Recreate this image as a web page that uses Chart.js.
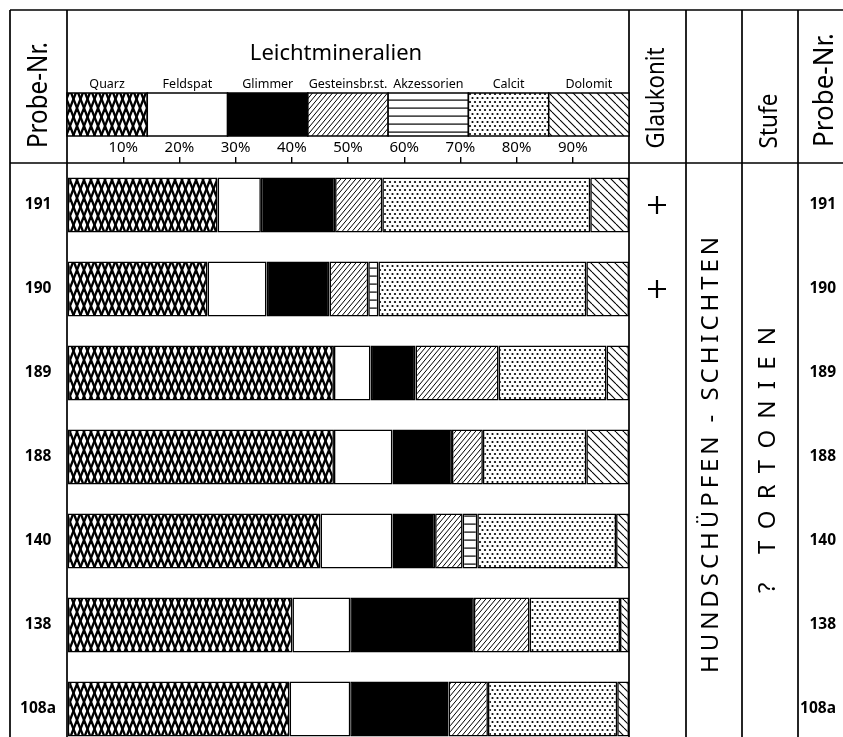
<!DOCTYPE html>
<html>
<head>
<meta charset="utf-8">
<script src="https://cdn.jsdelivr.net/npm/chart.js@4"></script>
<style>
html,body{margin:0;padding:0;background:#fff;overflow:hidden;}
canvas{display:block;}
</style>
</head>
<body>
<canvas id="c" width="843" height="752"></canvas>
<script>
// ---- data ----
const categories = ['191','190','189','188','140','138','108a'];
const seriesNames = ['Quarz','Feldspat','Glimmer','Gesteinsbr.st.','Akzessorien','Calcit','Dolomit'];
const quarz    = [26.8, 25.0, 47.5, 47.5, 45.1, 40.1, 39.6];
const feldspat = [ 7.7, 10.5,  6.5, 10.4, 12.8, 10.3, 10.8];
const glimmer  = [13.2, 11.2,  8.0, 10.6,  7.6, 22.0, 17.5];
const gestein  = [ 8.4,  6.9, 14.8,  5.5,  4.9,  9.9,  7.0];
const akzess   = [ 0,    1.8,  0,    0,    2.6,  0,    0  ];
const calcit   = [37.0, 37.0, 19.2, 18.4, 24.7, 16.1, 23.0];
const dolomit  = [ 6.9,  7.6,  4.0,  7.6,  2.3,  1.6,  2.1];
const glaukonit = ['+', '+', '', '', '', '', ''];
const tickValues = [10, 20, 30, 40, 50, 60, 70, 80, 90];
const formation = 'HUNDSCHÜPFEN - SCHICHTEN';
const stufe = '? TORTONIEN';

// ---- patterns ----
function makePattern(w, h, draw) {
  const t = document.createElement('canvas');
  t.width = w; t.height = h;
  const g = t.getContext('2d');
  g.fillStyle = '#fff'; g.fillRect(0, 0, w, h);
  g.strokeStyle = '#000'; g.fillStyle = '#000';
  draw(g, w, h);
  return g.createPattern(t, 'repeat');
}
const pQuarz = makePattern(7, 18, (g, w, h) => {
  g.lineWidth = 2.3;
  for (let k = -1; k <= 1; k++) {
    g.beginPath(); g.moveTo(k*w, 0); g.lineTo(k*w + w, h); g.stroke();
    g.beginPath(); g.moveTo(k*w + w, 0); g.lineTo(k*w, h); g.stroke();
  }
});
const pGestein = makePattern(5, 6, (g, w, h) => {
  g.lineWidth = 1;
  for (let k = -1; k <= 1; k++) {
    g.beginPath(); g.moveTo(k*w, h); g.lineTo(k*w + w, 0); g.stroke();
  }
});
const pDolomit = makePattern(8, 8, (g, w, h) => {
  g.lineWidth = 1.1;
  for (let k = -1; k <= 1; k++) {
    g.beginPath(); g.moveTo(k*w, 0); g.lineTo(k*w + w, h); g.stroke();
  }
});
const pAkz = makePattern(8, 8, (g, w, h) => {
  g.fillRect(0, 3.5, w, 1.2);
});
const pCalcit = makePattern(5, 8, (g, w, h) => {
  const dots = [[2.5, 2], [0, 6], [5, 6]];
  dots.forEach(([x, y]) => { g.beginPath(); g.arc(x, y, 1.1, 0, Math.PI*2); g.fill(); });
});
const fills = [pQuarz, '#ffffff', '#000000', pGestein, pAkz, pCalcit, pDolomit];
const seriesData = [quarz, feldspat, glimmer, gestein, akzess, calcit, dolomit];

const FONT = "'Noto Sans', 'DejaVu Sans', sans-serif";

function rotatedText(ctx, text, cx, cy, size, targetLen, weight) {
  ctx.save();
  ctx.font = (weight || 'normal') + ' ' + size + 'px ' + FONT;
  ctx.translate(cx, cy);
  ctx.rotate(-Math.PI / 2);
  const w = ctx.measureText(text).width;
  ctx.scale(targetLen / w, 1);
  ctx.textAlign = 'center';
  ctx.textBaseline = 'middle';
  ctx.fillStyle = '#000';
  ctx.fillText(text, 0, 0);
  ctx.restore();
}
function spacedRotated(ctx, text, cx, cy, size, targetLen) {
  ctx.save();
  ctx.font = size + 'px ' + FONT;
  ctx.translate(cx, cy);
  ctx.rotate(-Math.PI / 2);
  ctx.textBaseline = 'middle';
  ctx.textAlign = 'left';
  ctx.fillStyle = '#000';
  const chars = Array.from(text);
  const widths = chars.map(c => ctx.measureText(c).width);
  const sum = widths.reduce((a, b) => a + b, 0);
  const gap = (targetLen - sum) / (chars.length - 1);
  let x = -targetLen / 2;
  chars.forEach((c, i) => { ctx.fillText(c, x, 0); x += widths[i] + gap; });
  ctx.restore();
}

const tablePlugin = {
  id: 'table',
  beforeDraw(chart) {
    const ctx = chart.ctx;
    ctx.save();
    ctx.fillStyle = '#fff';
    ctx.fillRect(0, 0, chart.width, chart.height);
    ctx.restore();
  },
  afterDraw(chart) {
    const ctx = chart.ctx;
    const a = chart.chartArea;
    const ys = chart.scales.y;
    const H = chart.height;
    const top = 10, head = a.top;
    const cols = [10, a.left, a.right, 686, 742, 798];
    ctx.save();
    ctx.strokeStyle = '#000';
    ctx.lineWidth = 1.7;
    ctx.beginPath();
    ctx.moveTo(10, top); ctx.lineTo(chart.width, top);
    ctx.moveTo(10, head); ctx.lineTo(chart.width, head);
    cols.forEach(x => { ctx.moveTo(x, top); ctx.lineTo(x, H); });
    ctx.stroke();

    // header legend swatches
    const sw = (a.right - a.left) / seriesNames.length;
    const sTop = 93, sBot = 136;
    ctx.font = '12.5px ' + FONT;
    ctx.textAlign = 'center';
    ctx.textBaseline = 'alphabetic';
    ctx.lineWidth = 1.5;
    seriesNames.forEach((n, i) => {
      const x0 = a.left + i * sw;
      ctx.fillStyle = fills[i];
      ctx.fillRect(x0, sTop, sw, sBot - sTop);
      ctx.strokeRect(x0, sTop, sw, sBot - sTop);
      ctx.fillStyle = '#000';
      ctx.fillText(n, x0 + sw / 2, 88);
    });
    ctx.font = '22px ' + FONT;
    ctx.fillText('Leichtmineralien', 336, 60);

    rotatedText(ctx, 'Probe-Nr.', 39, 95, 27, 106);
    rotatedText(ctx, 'Probe-Nr.', 825, 90, 27, 114);
    rotatedText(ctx, 'Glaukonit', 657, 98, 25, 101);
    rotatedText(ctx, 'Stufe', 770, 121, 25, 55);

    ctx.lineWidth = 2.2;
    glaukonit.forEach((g, i) => {
      if (g !== '+') return;
      const y = ys.getPixelForValue(i);
      const x = 657;
      ctx.beginPath();
      ctx.moveTo(x - 9, y); ctx.lineTo(x + 9, y);
      ctx.moveTo(x, y - 9); ctx.lineTo(x, y + 9);
      ctx.stroke();
    });

    spacedRotated(ctx, formation, 711, 455, 24, 436);
    spacedRotated(ctx, stufe, 768, 460, 24, 266);
    ctx.restore();
  }
};

function noPad(s) { s.paddingTop = 0; s.paddingBottom = 0; }

new Chart(document.getElementById('c'), {
  type: 'bar',
  data: {
    labels: categories,
    datasets: seriesNames.map((n, i) => ({
      label: n,
      data: seriesData[i],
      backgroundColor: fills[i],
      borderColor: '#000',
      borderWidth: 1.6,
      borderSkipped: false,
      barPercentage: 0.655,
      categoryPercentage: 1.0
    }))
  },
  options: {
    indexAxis: 'y',
    responsive: false,
    animation: false,
    devicePixelRatio: 1,
    layout: { padding: { left: 10, right: 7, top: 123, bottom: 1 } },
    plugins: { legend: { display: false }, tooltip: { enabled: false } },
    scales: {
      x: {
        type: 'linear', position: 'top', stacked: true, min: 0, max: 100,
        afterBuildTicks: s => { s.ticks = [0].concat(tickValues, [100]).map(v => ({ value: v })); },
        ticks: {
          callback: v => tickValues.includes(v) ? v + '%' : '',
          font: { family: FONT, size: 15 }, color: '#000', padding: 0, maxRotation: 0, autoSkip: false
        },
        grid: {
          drawOnChartArea: false, drawTicks: true, tickLength: 6, lineWidth: 1.4,
          color: c => (c.tick && tickValues.includes(c.tick.value)) ? '#000' : 'rgba(0,0,0,0)'
        },
        border: { display: false },
        afterFit: s => { s.height = 40; s.paddingLeft = 0; s.paddingRight = 0; }
      },
      y: {
        type: 'category', position: 'left', stacked: true, offset: true,
        grid: { display: false }, border: { display: false },
        ticks: { crossAlign: 'center', font: { family: FONT, size: 15.5, weight: 'bold' }, color: '#000' },
        afterFit: s => { s.width = 57; noPad(s); }
      },
      y2: {
        type: 'category', position: 'right', labels: categories, offset: true,
        grid: { display: false }, border: { display: false },
        ticks: { crossAlign: 'far', font: { family: FONT, size: 15.5, weight: 'bold' }, color: '#000' },
        afterFit: s => { s.width = 207; noPad(s); }
      }
    }
  },
  plugins: [tablePlugin]
});
</script>
</body>
</html>
